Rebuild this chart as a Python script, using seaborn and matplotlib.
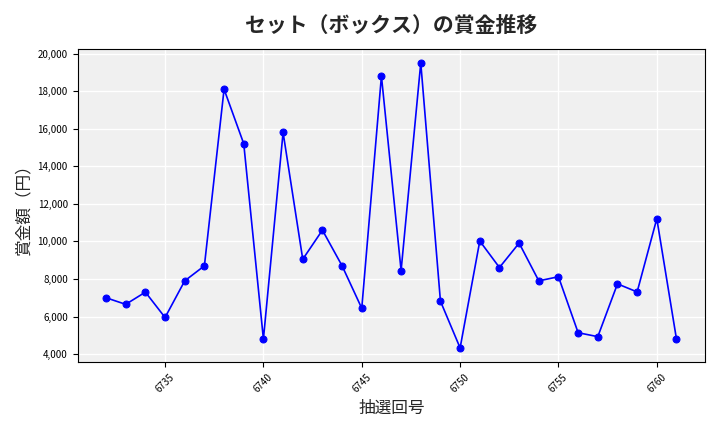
import matplotlib
matplotlib.use("Agg")
import matplotlib.pyplot as plt
import seaborn as sns
import pandas as pd
from matplotlib.ticker import FuncFormatter

draw_numbers = list(range(6732, 6762))
prizes = [7000, 6650, 7300, 5950, 7900, 8700, 18100, 15200, 4800, 15800,
          9050, 10600, 8700, 6440, 18800, 8450, 19500, 6820, 4330, 10020,
          8610, 9910, 7900, 8120, 5140, 4930, 7740, 7310, 11210, 4800]

sns.set_style("whitegrid")
plt.rcParams["font.family"] = ["Noto Sans CJK JP", "DejaVu Sans"]

df = pd.DataFrame({"draw": draw_numbers, "prize": prizes})

fig, ax = plt.subplots(figsize=(7.2, 4.32), dpi=100)
ax.set_facecolor("#f0f0f0")
sns.lineplot(data=df, x="draw", y="prize", ax=ax, color="blue",
             marker="o", markersize=5, markeredgecolor="blue", linewidth=1.2)
ax.grid(True, color="white", linewidth=1)
for s in ax.spines.values():
    s.set_color("black")
    s.set_linewidth(0.8)
ax.yaxis.set_major_formatter(FuncFormatter(lambda v, p: f"{int(v):,}"))
ax.set_yticks(range(4000, 20001, 2000))
ax.tick_params(axis="both", which="major", length=3.5, width=0.8,
               color="black", labelcolor="black", bottom=True, left=True)
ax.tick_params(axis="x", labelrotation=45, labelsize=7)
ax.tick_params(axis="y", labelsize=7)
ax.set_title("セット（ボックス）の賞金推移", fontsize=15, fontweight="bold", pad=12)
ax.set_xlabel("抽選回号", fontsize=12)
ax.set_ylabel("賞金額（円）", fontsize=12)
fig.tight_layout()
fig.savefig("out.png")
